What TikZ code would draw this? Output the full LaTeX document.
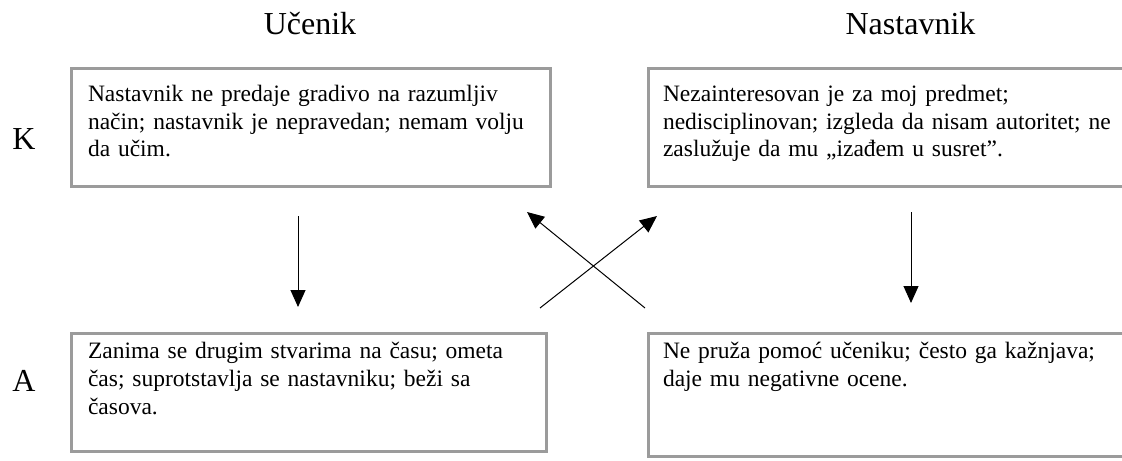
\documentclass[tikz,border=0pt]{standalone}
\usepackage{fontspec}
\setmainfont{Liberation Serif}
\usetikzlibrary{positioning,arrows.meta}
\definecolor{boxgray}{HTML}{9B9B9B}

\begin{document}
\begin{tikzpicture}
		[x=0.5pt, y=-0.5pt, font=\fontsize{11.75pt}{14pt}\selectfont,
		% STYLES
		% The cell style is used for the four descriptions
		cell/.style={rectangle, draw=boxgray, line width=1.5pt, anchor=north west, inner xsep=8.25pt, inner ysep=0pt, text width=223pt, align=left, text height=16.25pt, text depth=42.75pt},
		% The side style is used for the column and row headings
		side/.style={inner sep=0pt, anchor=base, font=\fontsize{16pt}{18pt}\selectfont},
		% links between the cells
		link/.style={line width=0.5pt, -{Triangle[length=8.5pt,width=7.5pt]}}]

		\clip (0,0) rectangle (1122,460);

		% Draw cells
		\node [cell] (ku) at (70,67) {Nastavnik ne predaje gradivo na razumljiv\\ način; nastavnik je nepravedan; nemam volju\\ da učim.};
		\node [cell, inner xsep=7.25pt, text width=240pt, right=47.5pt of ku.north east, anchor=north west] (kn) {Nezainteresovan je za moj predmet;\\ nedisciplinovan; izgleda da nisam autoritet; ne\\ zaslužuje da mu „izađem u susret”.};
		\node [cell, text width=221pt, text height=12.5pt, text depth=46.5pt, below=72pt of ku.south west, anchor=north west] (au) {Zanima se drugim stvarima na času; ometa\\ čas; suprotstavlja se nastavniku; beži sa\\ časova.};
		\node [cell, inner xsep=7.25pt, text width=240pt, text height=12.5pt, text depth=49pt, below=72pt of kn.south west, anchor=north west] (an) {Ne pruža pomoć učeniku; često ga kažnjava;\\ daje mu negativne ocene.};

		%%%%%%%%%%%%%%%
		% Headings
		\node [side] (ucenik) at (310,35) {Učenik};
		\node [side] (nastavnik) at (910.5,35) {Nastavnik};
		\node [side] (k) at (24,149) {K};
		\node [side] (a) at (24,391) {A};

		%%%%%%%%%%%%%%%%
		% Draw the links between cells
		\coordinate (ku-out) at (298,216);
		\coordinate (au-in) at (298,307);
		\coordinate (kn-out) at (911,212);
		\coordinate (an-in) at (911,303);
		\coordinate (au-out) at (540,308);
		\coordinate (kn-in) at (657,216);
		\coordinate (an-out) at (645,308);
		\coordinate (ku-in) at (527,212);
		\path[link]
			(ku-out) edge (au-in)
			(kn-out) edge (an-in)
			(au-out) edge (kn-in)
			(an-out) edge (ku-in);
\end{tikzpicture}
\end{document}
